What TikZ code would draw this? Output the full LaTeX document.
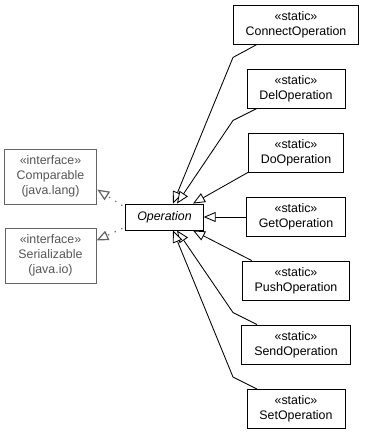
\documentclass[tikz,border=0pt]{standalone}
\usepackage{fontspec}
\setmainfont{Liberation Sans}
\usetikzlibrary{arrows.meta}
\definecolor{ifgray}{RGB}{100,100,100}
\newcommand{\umlfont}{\fontsize{12.4}{15}\selectfont}
\tikzset{
  cls/.style={draw,line width=0.9pt,align=center,inner xsep=12.5pt,inner ysep=0pt,
    minimum height=39pt,font=\umlfont},
  iface/.style={cls,draw=ifgray,text=ifgray!85!black,minimum width=91pt,minimum height=55pt},
  inherit/.style={-{Triangle[open,length=12pt,width=10pt,fill=white]},line width=0.85pt},
  realize/.style={inherit,draw=ifgray,dash pattern=on 1.2pt off 6pt,line width=1.2pt}
}
\begin{document}
\begin{tikzpicture}[x=1pt,y=-1pt]
  \useasboundingbox (0,0) rectangle (365,435);
  %% interfaces
  \node[iface] (Comparable) at (50.5,176.5) {«interface»\\Comparable\\(java.lang)};
  \node[iface] (Serializable) at (50.5,255.5) {«interface»\\Serializable\\(java.io)};
  %% base class
  \node[cls,font=\umlfont\itshape,minimum height=26pt,inner xsep=11.5pt] (Operation) at (164.5,217) {Operation};
  \draw[realize] ([shift={(-3pt,-2pt)}]Operation.north west) -- ([yshift=-13pt]Comparable.east);
  \draw[realize] ([shift={(-3pt,2pt)}]Operation.south west) -- ([yshift=15pt]Serializable.east);
  %% static subclasses
  \foreach \op/\y in {Connect/24.5,Del/88.5,Do/152.5,Get/217,Push/280.5,Send/344.5,Set/409}
    \node[cls] (\op Op) at (296,\y) {«static»\\\op Operation};
  %% generalizations
  \draw[inherit] ([xshift=-39pt]ConnectOp.south) -- ++(-24,13) -- ([xshift=8.5pt]Operation.north);
  \draw[inherit] ([xshift=-39pt]DelOp.south) -- ++(-24,12) -- ([xshift=12.5pt]Operation.north);
  \draw[inherit] (DoOp.south west) -- ([xshift=28.5pt]Operation.north);
  \draw[inherit] (GetOp.west) -- (Operation.east);
  \draw[inherit] ([xshift=10pt]PushOp.north west) -- ([xshift=28.5pt]Operation.south);
  \draw[inherit] ([xshift=-39pt]SendOp.north) -- ++(-24,-12) -- ([xshift=12.5pt]Operation.south);
  \draw[inherit] ([xshift=-39pt]SetOp.north) -- ++(-24,-12) -- ([xshift=8.5pt]Operation.south);
\end{tikzpicture}
\end{document}
